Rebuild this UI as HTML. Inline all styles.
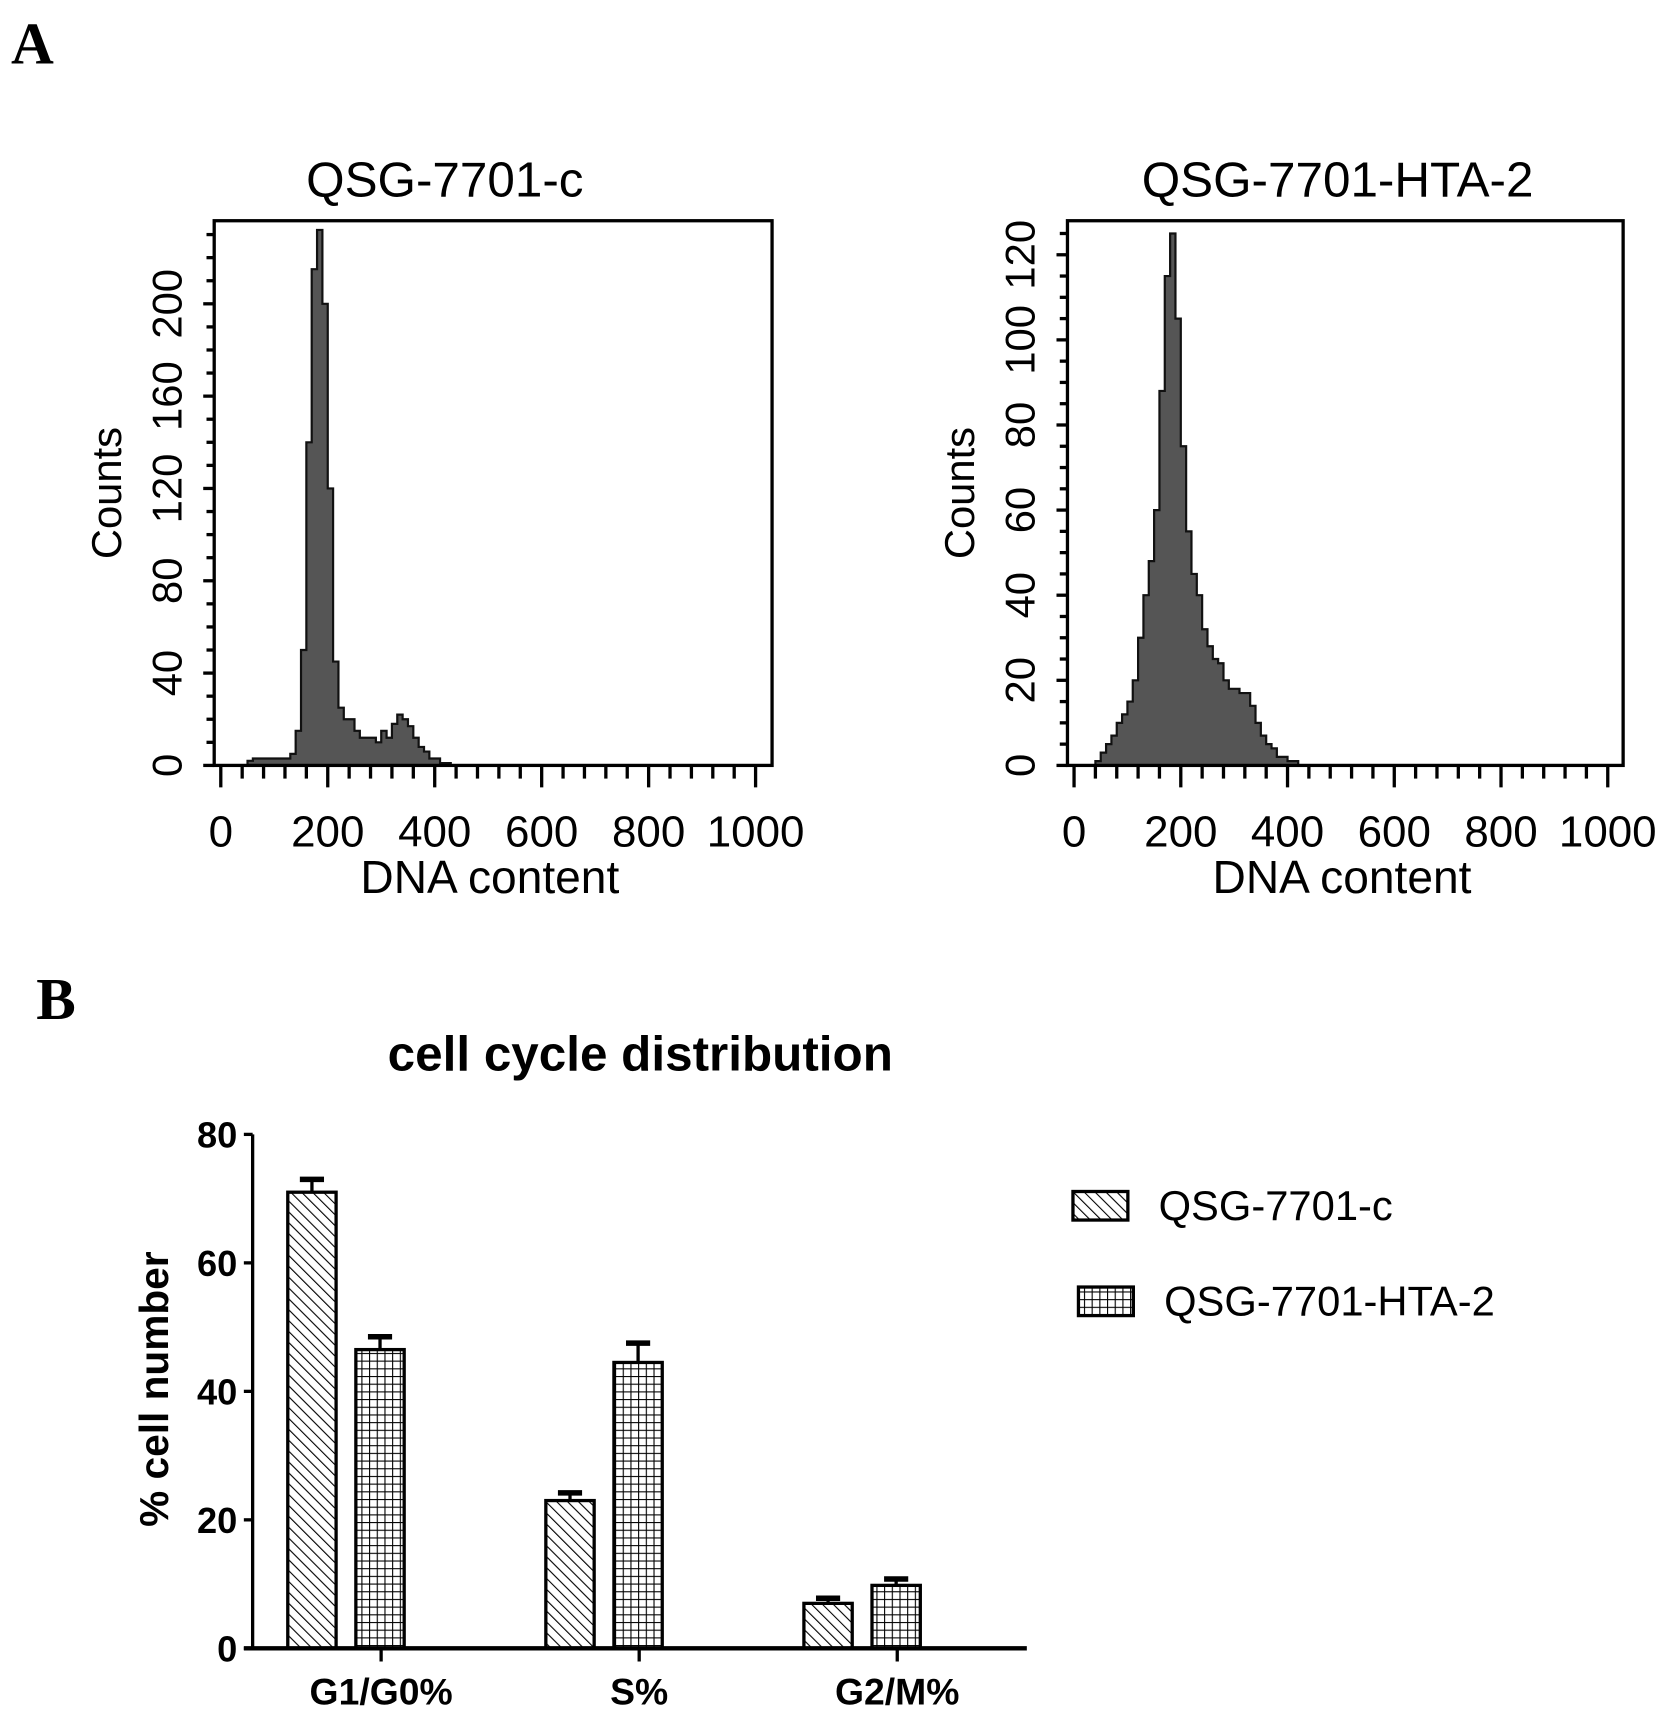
<!DOCTYPE html>
<html><head><meta charset="utf-8"><style>
html,body{margin:0;padding:0;background:#fff}
svg{display:block}
text{font-family:"Liberation Sans",sans-serif;fill:#000}
.nar{font-family:"Liberation Sans Narrow","Liberation Sans",sans-serif;font-weight:bold}
</style></head><body>
<svg id="fig" width="1677" height="1723" viewBox="0 0 1527 1569" xmlns="http://www.w3.org/2000/svg">
<defs>
<pattern id="hatch" width="7" height="7" patternUnits="userSpaceOnUse" patternTransform="rotate(-45)">
<rect width="7" height="7" fill="#fff"/><line x1="0" y1="0" x2="0" y2="7" stroke="#000" stroke-width="2"/></pattern>
<pattern id="grid" width="7" height="7" patternUnits="userSpaceOnUse">
<rect width="7" height="7" fill="#fff"/><path d="M0 0H7M0 0V7" stroke="#000" stroke-width="2" fill="none"/></pattern>
</defs>
<text x="10" y="58" style="font-family:'Liberation Serif',serif;font-weight:bold;font-size:54px">A</text>
<text x="33" y="928" style="font-family:'Liberation Serif',serif;font-weight:bold;font-size:54px">B</text>
<g id="h1"></g>
<g id="h2"></g>
<g id="bars"></g>
</svg>
<script>
// Histogram data (bin width 10 DNA units, starting at 0)
const binWidth = 10;
const countsC = [0,0,0,0,0,2,3,3,3,3,3,3,3,5,15,50,140,215,232,200,120,45,25,20,20,15,12,12,12,10,15,12,18,22,20,17,12,8,6,3,3,1,1,0];
const countsH = [0,0,0,0,1,3,5,7,10,12,15,20,30,40,48,60,88,115,125,105,75,55,45,40,32,28,25,24,20,18,18,17,17,14,10,7,5,4,2,2,1,1,0];
const yTicksC = [0,40,80,120,160,200];
const yTicksH = [0,20,40,60,80,100,120];
const xTicks = [0,200,400,600,800,1000];
// Bar chart data
const categories = ["G1/G0%","S%","G2/M%"];
const seriesNames = ["QSG-7701-c","QSG-7701-HTA-2"];
const valuesC = [71,23,7];
const errorsC = [2,1.2,0.8];
const valuesH = [46.5,44.5,9.8];
const errorsH = [2,3,1];
const barTicks = [0,20,40,60,80];

const NS="http://www.w3.org/2000/svg";
function mk(parent,tag,attrs,txt){const e=document.createElementNS(NS,tag);for(const k in attrs)e.setAttribute(k,attrs[k]);if(txt!==undefined)e.textContent=txt;parent.appendChild(e);return e;}

function hist(gid,box,ymax,counts,yTicks,yMinor,title,x0,x1000,titleX){
  const g=document.getElementById(gid);
  const sx=v=>x0+(x1000-x0)*v/1000;
  const sy=v=>box.b-(box.b-box.t)*v/ymax;
  let d="M"+sx(0)+" "+sy(0);
  counts.forEach((c,i)=>{d+=" L"+sx(i*binWidth)+" "+sy(c)+" L"+sx((i+1)*binWidth)+" "+sy(c);});
  d+=" L"+sx(counts.length*binWidth)+" "+sy(0)+" Z";
  const p=mk(g,"path",{d:d,fill:"#555",stroke:"#111","stroke-width":2});
  
  
  const fr=mk(g,"rect",{x:box.l,y:box.t,width:box.r-box.l,height:box.b-box.t,fill:"none",stroke:"#000","stroke-width":3});
  
  
  for(let v=0;v<=ymax;v+=yMinor){const y=sy(v);const major=yTicks.includes(v);
    const t=mk(g,"line",{x1:box.l-(major?10:7),x2:box.l,y1:y,y2:y,stroke:"#000","stroke-width":3});
    
    }
  yTicks.forEach(v=>{const y=sy(v);
    const t=mk(g,"text",{x:0,y:0,transform:`translate(${box.l-30},${y}) rotate(-90)`,"text-anchor":"middle","font-size":38},String(v));
    
    });
  for(let v=0;v<=1000;v+=40){const x=sx(v);const major=v%200===0;
    const t=mk(g,"line",{x1:x,x2:x,y1:box.b,y2:box.b+(major?20:12),stroke:"#000","stroke-width":3});
    
    }
  xTicks.forEach(v=>{const t=mk(g,"text",{x:sx(v),y:box.b+74,"text-anchor":"middle","font-size":40},String(v));
    
    });
  const xt=mk(g,"text",{x:(box.l+box.r)/2-3,y:box.b+116,"text-anchor":"middle","font-size":42},"DNA content");
  
  
  const yt=mk(g,"text",{x:0,y:0,transform:`translate(${box.l-85},${(box.t+box.b)/2}) rotate(-90)`,"text-anchor":"middle","font-size":38},"Counts");
  
  
  const tt=mk(g,"text",{x:titleX,y:box.t-22,"text-anchor":"middle","font-size":45},title);
  
  
}
hist("h1",{l:195,r:703,t:201,b:697},236,countsC,yTicksC,10,"QSG-7701-c",201,688,405);
hist("h2",{l:972,r:1478,t:201,b:697},128,countsH,yTicksH,5,"QSG-7701-HTA-2",978,1464,1218);

(function(){
  const g=document.getElementById("bars");
  const ax={l:230,b:1501,t:1033,ymax:80};
  const sy=v=>ax.b-(ax.b-ax.t)*v/ax.ymax;
  const catX=[0,1,2].map(i=>347+i*235);
  const barW=44;
  const tt=mk(g,"text",{x:583,y:975,"text-anchor":"middle","font-size":45,class:"nar"},"cell cycle distribution");
  
  
  categories.forEach((c,i)=>{
    const cx=catX[i];
    [[valuesC,errorsC,"url(#hatch)",cx-85],[valuesH,errorsH,"url(#grid)",cx-23]].forEach(([vals,errs,fill,x],s)=>{
      const v=vals[i],e=errs[i];
      const ex=x+barW/2;
      const el=mk(g,"line",{x1:ex,x2:ex,y1:sy(v),y2:sy(v+e),stroke:"#000","stroke-width":3});
      
      
      const cap=mk(g,"line",{x1:ex-11,x2:ex+11,y1:sy(v+e),y2:sy(v+e),stroke:"#000","stroke-width":5});
      
      
      const r=mk(g,"rect",{x:x,y:sy(v),width:barW,height:ax.b-sy(v),fill:fill,stroke:"#000","stroke-width":3});
      
      
    });
    const tk=mk(g,"line",{x1:cx,x2:cx,y1:ax.b,y2:ax.b+12,stroke:"#000","stroke-width":3});
    
    
    const lb=mk(g,"text",{x:cx,y:1552,"text-anchor":"middle","font-size":34,class:"nar"},c);
    
    
  });
  const ya=mk(g,"line",{x1:ax.l,x2:ax.l,y1:ax.t,y2:ax.b,stroke:"#000","stroke-width":3});
  
  
  const xa=mk(g,"line",{x1:222,x2:935,y1:ax.b,y2:ax.b,stroke:"#000","stroke-width":4});
  
  
  barTicks.forEach(v=>{
    const t=mk(g,"line",{x1:ax.l-8,x2:ax.l,y1:sy(v),y2:sy(v),stroke:"#000","stroke-width":3});
    
    
    const l=mk(g,"text",{x:216,y:sy(v)+12,"text-anchor":"end","font-size":33,class:"nar"},String(v));
    
    
  });
  const yt=mk(g,"text",{x:0,y:0,transform:"translate(153,1265) rotate(-90)","text-anchor":"middle","font-size":37,style:"font-weight:bold"},"% cell number");
  
  
  [["url(#hatch)",977,1085],["url(#grid)",982,1172]].forEach(([f,x,y],i)=>{
    const sw=mk(g,"rect",{x:x,y:y,width:50,height:26,fill:f,stroke:"#000","stroke-width":3});
    
    
    const t=mk(g,"text",{x:x+78,y:y+26,"font-size":38,class:"nar",style:"font-weight:normal"},seriesNames[i]);
    
    
  });
})();
</script>
</body></html>
